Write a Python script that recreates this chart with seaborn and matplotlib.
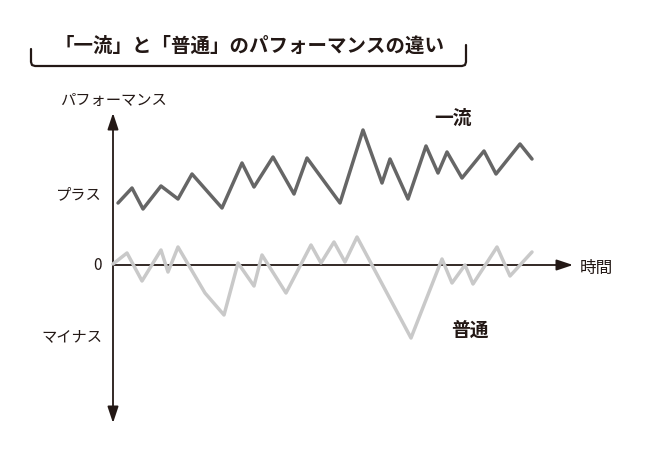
import numpy as np
import pandas as pd
import seaborn as sns
import matplotlib.pyplot as plt

# time / performance samples
top_time = [5, 19, 30, 48, 65, 79, 109, 129, 141, 160, 181, 194, 227, 250,
            269, 277, 295, 313, 325, 334, 349, 371, 383, 407, 419]
top_perf = [62, 77, 56, 79, 66, 91, 57, 102, 78, 108, 71, 107, 62, 135,
            82, 106, 66, 119, 92, 113, 87, 114, 91, 121, 106]

avg_time = [0, 14, 29, 48, 55, 65, 92, 111, 125, 141, 149, 173, 198, 208,
            221, 232, 244, 298, 329, 339, 352, 360, 384, 397, 419]
avg_perf = [1, 12, -16, 15, -7, 18, -28, -50, 2, -21, 10, -28, 20, 2,
            23, 3, 28, -73, 6, -18, 0, -19, 18, -11, 13]

title = "「一流」と「普通」のパフォーマンスの違い"
y_labels = ["プラス", "0", "マイナス"]
y_label_pos = [70, 0, -72]

sns.set_theme(style="white")
plt.rcParams["font.family"] = ["Noto Sans CJK JP", "DejaVu Sans"]

fig = plt.figure(figsize=(6.5, 4.54), dpi=100)
ax = fig.add_axes([0, 0, 1, 1])
ax.set_xlim(-113, 537)
ax.set_ylim(-189, 265)
ax.axis("off")

ink = "#231815"
head = "head_length=0.9,head_width=0.3"

df_top = pd.DataFrame({"t": top_time, "p": top_perf})
df_avg = pd.DataFrame({"t": avg_time, "p": avg_perf})

# axes with arrows
ax.annotate("", xy=(0, 152), xytext=(0, -158),
            arrowprops=dict(arrowstyle="<|-|>," + head, color=ink, lw=1.3,
                            mutation_scale=11, shrinkA=0, shrinkB=0))
ax.annotate("", xy=(460, 0), xytext=(0, 0),
            arrowprops=dict(arrowstyle="-|>," + head, color=ink, lw=1.3,
                            mutation_scale=11, shrinkA=0, shrinkB=0))

sns.lineplot(data=df_avg, x="t", y="p", sort=False, color="#c9c9c9",
             lw=2.5, ax=ax, zorder=3)
sns.lineplot(data=df_top, x="t", y="p", sort=False, color="#666666",
             lw=2.5, ax=ax, zorder=3)

# axis labels
ax.text(0, 165, "パフォーマンス", ha="center", va="center", fontsize=11, color=ink)
ax.text(467, -3, "時間", ha="left", va="center", fontsize=12, color=ink)
for lab, pos in zip(y_labels, y_label_pos):
    ax.text(-11, pos, lab, ha="right", va="center", fontsize=11, color=ink)

# series labels
ax.text(340, 147, "一流", ha="center", va="center", fontsize=13.5,
        fontweight="bold", color=ink)
ax.text(357, -65, "普通", ha="center", va="center", fontsize=13.5,
        fontweight="bold", color=ink)

# title with bracket underline
ax.text(137, 219, title, ha="center", va="center", fontsize=14,
        fontweight="bold", color=ink)
bx = np.array([31, 31, 32, 35, 462, 465, 466, 466]) - 113
by = 265 - np.array([49, 62, 65, 66, 66, 65, 62, 45])
ax.plot(bx, by, color=ink, lw=1.6, solid_capstyle="round")

plt.savefig("out.png", dpi=100)
